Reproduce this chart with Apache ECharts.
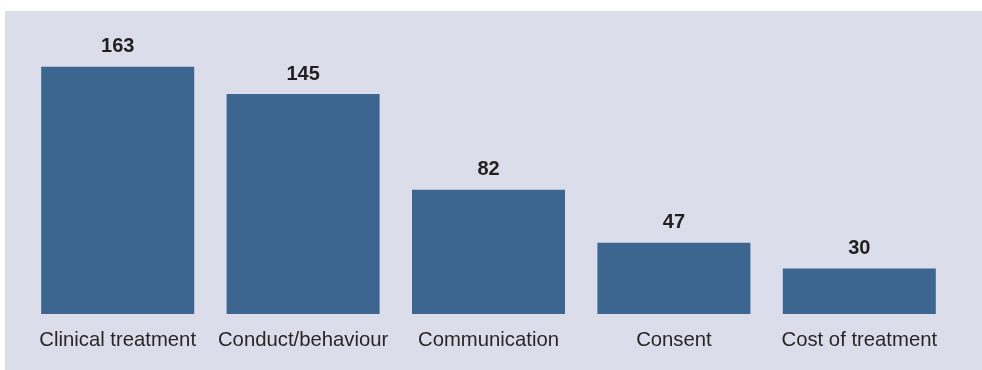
<!DOCTYPE html>
<html>
<head>
<meta charset="utf-8">
<script src="https://cdn.jsdelivr.net/npm/echarts@6/dist/echarts.min.js"></script>
<style>
html,body{margin:0;padding:0;background:#ffffff;}
#chart{width:982px;height:370px;}
</style>
</head>
<body>
<div id="chart"></div>
<script>
const categories = ['Clinical treatment', 'Conduct/behaviour', 'Communication', 'Consent', 'Cost of treatment'];
const values = [163, 145, 82, 47, 30];

const chart = echarts.init(document.getElementById('chart'), null, {renderer: 'canvas'});
chart.setOption({
  backgroundColor: '#ffffff',
  animation: false,
  graphic: [{
    type: 'rect',
    z: -10,
    shape: {x: 5, y: 11, width: 977, height: 359},
    style: {fill: '#dbdeea'}
  }],
  grid: {left: 25, right: 30, top: 41, bottom: 56, containLabel: false},
  xAxis: {
    type: 'category',
    data: categories,
    axisLine: {show: false},
    axisTick: {show: false},
    axisLabel: {
      color: '#2a2627',
      fontFamily: 'Liberation Sans, Arial, sans-serif',
      fontSize: 20.3,
      margin: 16,
      interval: 0
    }
  },
  yAxis: {
    type: 'value',
    min: 0,
    max: 180,
    show: false,
    splitLine: {show: false}
  },
  series: [{
    type: 'bar',
    data: values,
    barWidth: 153,
    itemStyle: {color: '#3c6590'},
    label: {
      show: true,
      position: 'top',
      distance: 10,
      color: '#231f20',
      fontWeight: 'bold',
      fontSize: 20,
      fontFamily: 'Liberation Sans, Arial, sans-serif'
    }
  }]
});
</script>
</body>
</html>
